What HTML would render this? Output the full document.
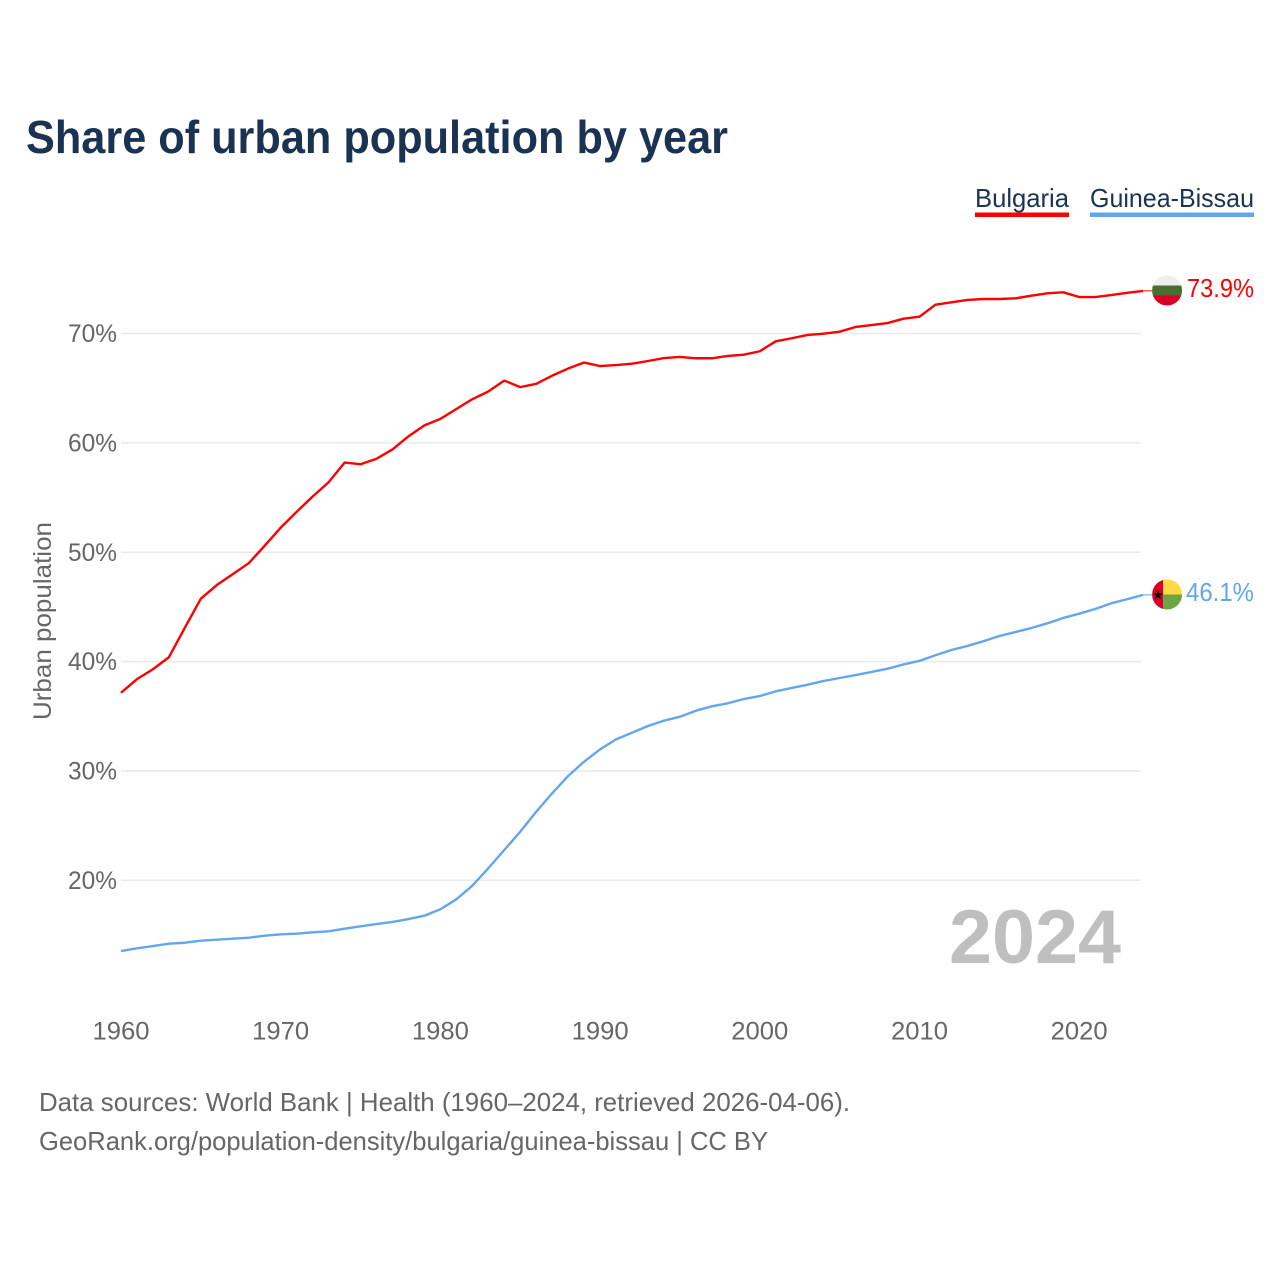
<!DOCTYPE html>
<html lang="en">
<head>
<meta charset="utf-8">
<title>Share of urban population by year</title>
<style>
html,body{margin:0;padding:0;background:#fff;}
svg{display:block;font-family:"Liberation Sans",sans-serif;}
</style>
</head>
<body>
<svg id="chart" width="1280" height="1280" viewBox="0 0 1280 1280" xmlns="http://www.w3.org/2000/svg">
  <defs>
    <clipPath id="flag-clip"><circle cx="0" cy="0" r="15"></circle></clipPath>
  </defs>
  <rect width="1280" height="1280" fill="#ffffff"></rect>
  <text x="26" y="153" font-size="46" font-weight="700" fill="#1a3352" textLength="702" lengthAdjust="spacingAndGlyphs">Share of urban population by year</text>

  <g>
    <g>
      <text x="975" y="207" font-size="26" fill="#1a3352" textLength="94" lengthAdjust="spacingAndGlyphs">Bulgaria</text>
      <rect x="975" y="212.5" width="94" height="4.5" fill="#ff0000"></rect>
    </g>
    <g>
      <text x="1090" y="207" font-size="26" fill="#1a3352" textLength="164" lengthAdjust="spacingAndGlyphs">Guinea-Bissau</text>
      <rect x="1090" y="212.5" width="164" height="4.5" fill="#63a6ec"></rect>
    </g>
  </g>

  <g id="grid"></g>
  <g id="y-axis"></g>
  <g id="x-axis"></g>
  <text transform="translate(51 621) rotate(-90)" text-anchor="middle" font-size="25" fill="#666666" textLength="198" lengthAdjust="spacingAndGlyphs">Urban population</text>

  <g id="series"></g>

  <g id="flag-bulgaria">
    <g clip-path="url(#flag-clip)">
      <rect x="-15" y="-15" width="30" height="10" fill="#eeeeee"></rect>
      <rect x="-15" y="-5" width="30" height="10" fill="#496e2d"></rect>
      <rect x="-15" y="5" width="30" height="10" fill="#d80027"></rect>
    </g>
  </g>
  <g id="flag-guinea-bissau">
    <g clip-path="url(#flag-clip)">
      <rect x="-15" y="-15" width="11" height="30" fill="#d80027"></rect>
      <rect x="-4" y="-15" width="19" height="15" fill="#ffda44"></rect>
      <rect x="-4" y="0" width="19" height="15" fill="#6da544"></rect>
      <polygon points="-9,-4.5 -7.8,-1 -4.2,-1 -7.1,1.2 -6,4.7 -9,2.6 -12,4.7 -10.9,1.2 -13.8,-1 -10.2,-1" fill="#000000"></polygon>
    </g>
  </g>

  <text x="949" y="963" font-size="76" font-weight="700" fill="#bfbfbf" textLength="172" lengthAdjust="spacingAndGlyphs">2024</text>

  <text x="39" y="1111" font-size="26" fill="#666666" textLength="811" lengthAdjust="spacingAndGlyphs">Data sources: World Bank | Health (1960–2024, retrieved 2026-04-06).</text>
  <text x="39" y="1150" font-size="26" fill="#666666" textLength="729" lengthAdjust="spacingAndGlyphs">GeoRank.org/population-density/bulgaria/guinea-bissau | CC BY</text>
</svg>

<script>
const years = [1960,1961,1962,1963,1964,1965,1966,1967,1968,1969,1970,1971,1972,1973,1974,1975,1976,1977,1978,1979,1980,1981,1982,1983,1984,1985,1986,1987,1988,1989,1990,1991,1992,1993,1994,1995,1996,1997,1998,1999,2000,2001,2002,2003,2004,2005,2006,2007,2008,2009,2010,2011,2012,2013,2014,2015,2016,2017,2018,2019,2020,2021,2022,2023,2024];
const bulgariaValues = [37.15,38.4,39.3,40.4,43.1,45.75,47.0,48.0,49.0,50.6,52.25,53.7,55.1,56.4,58.2,58.05,58.55,59.4,60.6,61.6,62.2,63.1,64.0,64.7,65.7,65.1,65.4,66.15,66.8,67.35,67.03,67.12,67.24,67.49,67.76,67.86,67.74,67.74,67.95,68.07,68.38,69.29,69.57,69.87,69.99,70.17,70.6,70.78,70.96,71.36,71.54,72.64,72.86,73.07,73.16,73.16,73.22,73.46,73.68,73.77,73.34,73.34,73.52,73.73,73.9];
const guineaBissauValues = [13.53,13.78,13.99,14.2,14.29,14.48,14.57,14.66,14.75,14.93,15.06,15.12,15.24,15.34,15.57,15.79,16.0,16.19,16.46,16.76,17.35,18.26,19.51,21.1,22.77,24.44,26.27,27.96,29.54,30.85,31.98,32.89,33.5,34.11,34.6,34.96,35.51,35.91,36.19,36.58,36.85,37.28,37.59,37.89,38.23,38.5,38.77,39.05,39.35,39.74,40.07,40.58,41.06,41.43,41.86,42.34,42.7,43.07,43.5,43.99,44.38,44.81,45.33,45.7,46.1];
const yTicks = [20,30,40,50,60,70];
const xTicks = [1960,1970,1980,1990,2000,2010,2020];

const SVG_NS = 'http://www.w3.org/2000/svg';
function xScale(year){ return 121 + (year - 1960) * 15.97; }
function yScale(value){ return 880.3 - (value - 20) * 10.935; }

const gridLayer = document.getElementById('grid');
const yAxisLayer = document.getElementById('y-axis');
const xAxisLayer = document.getElementById('x-axis');
const seriesLayer = document.getElementById('series');
const chartRoot = document.getElementById('chart');

yTicks.forEach(function(tick){
  const line = document.createElementNS(SVG_NS, 'line');
  
  
  line.setAttribute('x1', 121);
  line.setAttribute('x2', 1141);
  line.setAttribute('y1', yScale(tick));
  line.setAttribute('y2', yScale(tick));
  line.setAttribute('stroke', '#e9e9e9');
  line.setAttribute('stroke-width', '1.5');
  gridLayer.appendChild(line);

  const label = document.createElementNS(SVG_NS, 'text');
  
  
  label.setAttribute('x', 68);
  label.setAttribute('y', yScale(tick) + 8.5);
  label.setAttribute('font-size', '25');
  label.setAttribute('fill', '#666666');
  label.setAttribute('textLength', '49');
  label.setAttribute('lengthAdjust', 'spacingAndGlyphs');
  label.textContent = tick + '%';
  yAxisLayer.appendChild(label);
});

xTicks.forEach(function(tick){
  const label = document.createElementNS(SVG_NS, 'text');
  
  
  label.setAttribute('x', xScale(tick) - 28.5);
  label.setAttribute('y', 1039.5);
  label.setAttribute('font-size', '25');
  label.setAttribute('fill', '#666666');
  label.setAttribute('textLength', '57');
  label.setAttribute('lengthAdjust', 'spacingAndGlyphs');
  label.textContent = tick;
  xAxisLayer.appendChild(label);
});

function buildPath(values){
  return values.map(function(value, i){
    return (i === 0 ? 'M' : 'L') + xScale(years[i]).toFixed(2) + ' ' + yScale(value).toFixed(2);
  }).join(' ');
}

const lastYear = years[years.length - 1];
const flagX = xScale(lastYear) + 24;

const bulgariaLine = document.createElementNS(SVG_NS, 'path');


bulgariaLine.setAttribute('d', buildPath(bulgariaValues));
bulgariaLine.setAttribute('fill', 'none');
bulgariaLine.setAttribute('stroke', '#ff0000');
bulgariaLine.setAttribute('stroke-width', '2.4');
bulgariaLine.setAttribute('stroke-linejoin', 'round');
seriesLayer.appendChild(bulgariaLine);

const guineaBissauLine = document.createElementNS(SVG_NS, 'path');


guineaBissauLine.setAttribute('d', buildPath(guineaBissauValues));
guineaBissauLine.setAttribute('fill', 'none');
guineaBissauLine.setAttribute('stroke', '#63a6ec');
guineaBissauLine.setAttribute('stroke-width', '2.4');
guineaBissauLine.setAttribute('stroke-linejoin', 'round');
seriesLayer.appendChild(guineaBissauLine);

const bulgariaLast = bulgariaValues[bulgariaValues.length - 1];
const guineaBissauLast = guineaBissauValues[guineaBissauValues.length - 1];

const bulgariaConnector = document.createElementNS(SVG_NS, 'line');


bulgariaConnector.setAttribute('x1', xScale(lastYear));
bulgariaConnector.setAttribute('x2', flagX);
bulgariaConnector.setAttribute('y1', yScale(bulgariaLast));
bulgariaConnector.setAttribute('y2', yScale(bulgariaLast));
bulgariaConnector.setAttribute('stroke', '#ff0000');
bulgariaConnector.setAttribute('stroke-width', '1');
seriesLayer.appendChild(bulgariaConnector);

const guineaBissauConnector = document.createElementNS(SVG_NS, 'line');


guineaBissauConnector.setAttribute('x1', xScale(lastYear));
guineaBissauConnector.setAttribute('x2', flagX);
guineaBissauConnector.setAttribute('y1', yScale(guineaBissauLast));
guineaBissauConnector.setAttribute('y2', yScale(guineaBissauLast));
guineaBissauConnector.setAttribute('stroke', '#63a6ec');
guineaBissauConnector.setAttribute('stroke-width', '1');
seriesLayer.appendChild(guineaBissauConnector);

document.getElementById('flag-bulgaria').setAttribute('transform', 'translate(' + flagX + ' ' + (yScale(bulgariaLast) - 0.4) + ')');
document.getElementById('flag-guinea-bissau').setAttribute('transform', 'translate(' + flagX + ' ' + (yScale(guineaBissauLast) - 0.4) + ')');

const bulgariaEndLabel = document.createElementNS(SVG_NS, 'text');


bulgariaEndLabel.setAttribute('x', 1187);
bulgariaEndLabel.setAttribute('y', yScale(bulgariaLast) + 6);
bulgariaEndLabel.setAttribute('font-size', '26');
bulgariaEndLabel.setAttribute('fill', '#ff0000');
bulgariaEndLabel.setAttribute('textLength', '67');
bulgariaEndLabel.setAttribute('lengthAdjust', 'spacingAndGlyphs');
bulgariaEndLabel.textContent = bulgariaLast.toFixed(1) + '%';
chartRoot.appendChild(bulgariaEndLabel);

const guineaBissauEndLabel = document.createElementNS(SVG_NS, 'text');


guineaBissauEndLabel.setAttribute('x', 1186);
guineaBissauEndLabel.setAttribute('y', yScale(guineaBissauLast) + 6);
guineaBissauEndLabel.setAttribute('font-size', '26');
guineaBissauEndLabel.setAttribute('fill', '#63a6ec');
guineaBissauEndLabel.setAttribute('textLength', '68');
guineaBissauEndLabel.setAttribute('lengthAdjust', 'spacingAndGlyphs');
guineaBissauEndLabel.textContent = guineaBissauLast.toFixed(1) + '%';
chartRoot.appendChild(guineaBissauEndLabel);
</script>
</body>
</html>
